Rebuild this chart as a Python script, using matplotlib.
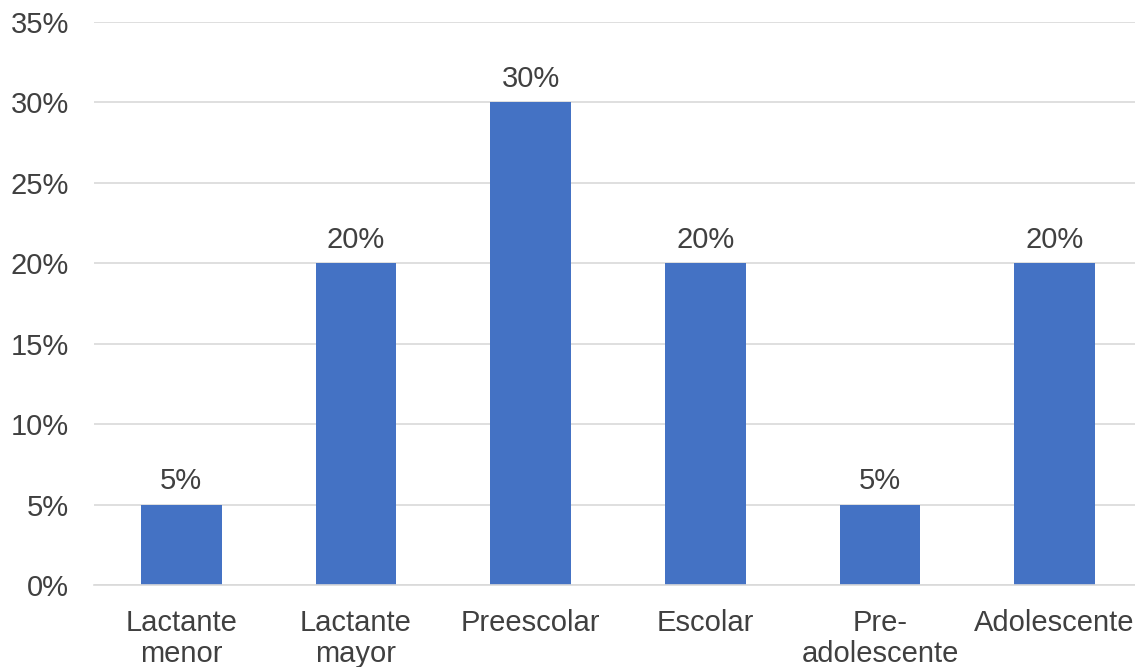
import matplotlib
matplotlib.use('Agg')
import matplotlib.pyplot as plt
from matplotlib.ticker import PercentFormatter

categories = ["Lactante\nmenor", "Lactante\nmayor", "Preescolar", "Escolar",
              "Pre-\nadolescente", "Adolescente"]
values = [5, 20, 30, 20, 5, 20]
yticks = [0, 5, 10, 15, 20, 25, 30, 35]

bar_color = '#4472C4'
text_color = '#404040'

plt.rcParams['font.family'] = ['Liberation Sans', 'DejaVu Sans']

fig = plt.figure(figsize=(11.35, 6.67), dpi=100)
ax = fig.add_axes([94 / 1135, 82 / 667, 1048 / 1135, 563 / 667])

x = range(len(categories))
bars = ax.bar(x, values, width=0.46, color=bar_color, zorder=3)

# value labels above each bar
for b, v in zip(bars, values):
    ax.annotate(f"{v}%", (b.get_x() + b.get_width() / 2, v),
                xytext=(0, 7), textcoords='offset points',
                ha='center', va='bottom', fontsize=21, color=text_color)

ax.set_xlim(-0.5, len(categories) - 0.5)
ax.set_ylim(0, 35)
ax.set_yticks(yticks)
ax.yaxis.set_major_formatter(PercentFormatter(decimals=0))
ax.set_xticks(list(x))
ax.set_xticklabels(categories, linespacing=1.15)

ax.grid(axis='y', color='#D9D9D9', linewidth=1.2, zorder=0)
for s in ['top', 'right', 'left']:
    ax.spines[s].set_visible(False)
ax.spines['bottom'].set_color('#D9D9D9')
ax.spines['bottom'].set_linewidth(1.2)
ax.spines['bottom'].set_zorder(4)

ax.tick_params(axis='both', length=0, labelsize=21, colors=text_color)
ax.tick_params(axis='x', pad=17)
ax.tick_params(axis='y', pad=18)

fig.savefig('out.png', dpi=100)
